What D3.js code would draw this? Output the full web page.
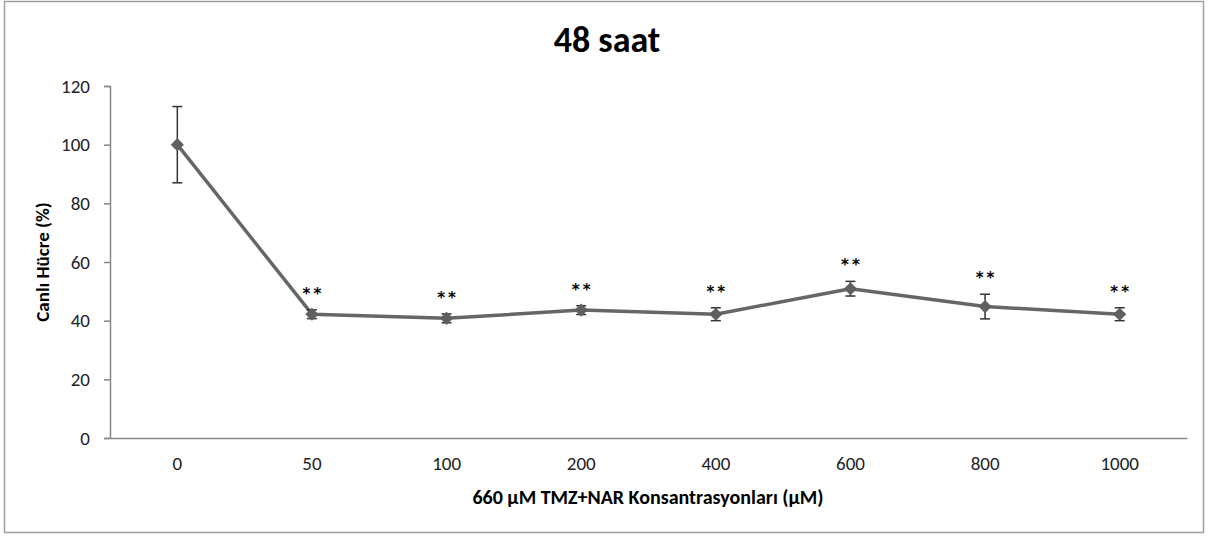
<!DOCTYPE html>
<html>
<head>
<meta charset="utf-8">
<script src="https://cdn.jsdelivr.net/npm/d3@7"></script>
<style>
	body { margin: 0; background: #fff; }
	text { font-family: Carlito, Calibri, 'Open Sans', sans-serif; }
</style>
</head>
<body>
<script>
const categories = [ '0', '50', '100', '200', '400', '600', '800', '1000' ];
const values = [ 100, 42.2, 40.8, 43.6, 42.2, 50.9, 44.8, 42.2 ];
const errors = [ 13, 1.5, 1.5, 1.5, 2.2, 2.5, 4.2, 2.2 ];
const marks = [ '', '**', '**', '**', '**', '**', '**', '**' ];
const yTicks = [ 0, 20, 40, 60, 80, 100, 120 ];

const width = 1209;
const height = 536;

const svg = d3.select('body').append('svg').attr('width', width).attr('height', height);

// outer frame
svg
	.append('rect')
	.attr('x', 4.5)
	.attr('y', 1.5)
	.attr('width', 1199)
	.attr('height', 531)
	.attr('fill', 'white')
	.attr('stroke', '#a0a0a0')
	.attr('stroke-width', 1.5);

const x = d3.scaleBand().domain(categories).range([ 110, 1187 ]);
const y = d3.scaleLinear().domain([ 0, 120 ]).range([ 438, 86 ]);

/*
	axes
*/
const gy = svg
	.append('g')
	.attr('transform', 'translate(110,0)')
	.call(d3.axisLeft(y).tickValues(yTicks).tickSize(6).tickPadding(14));
gy.select('.domain').attr('stroke', '#888').attr('stroke-width', 1.5);
gy.selectAll('.tick line').attr('stroke', '#888').attr('stroke-width', 1.5);
gy.selectAll('.tick text').style('font-size', '19px').attr('fill', '#222');

const gx = svg
	.append('g')
	.attr('transform', 'translate(0,438)')
	.call(d3.axisBottom(x).tickSize(0).tickPadding(19).tickSizeOuter(0));
gx.select('.domain').attr('stroke', '#888').attr('stroke-width', 1.5);
gx.selectAll('.tick text').style('font-size', '19px').attr('fill', '#222');

/*
	titles
*/
svg
	.append('text')
	.attr('x', 607)
	.attr('y', 52)
	.attr('text-anchor', 'middle')
	.style('font-size', '36px')
	.style('font-weight', 'bold')
	.text('48 saat');

svg
	.append('text')
	.attr('transform', 'translate(49,262) rotate(-90)')
	.attr('text-anchor', 'middle')
	.style('font-size', '19px')
	.style('font-weight', 'bold')
	.text('Canlı Hücre (%)');

svg
	.append('text')
	.attr('x', 648)
	.attr('y', 504)
	.attr('text-anchor', 'middle')
	.style('font-size', '20px')
	.style('font-weight', 'bold')
	.text('660 µM TMZ+NAR Konsantrasyonları (µM)');

/*
	series
*/
const cx = (i) => x(categories[i]) + x.bandwidth() / 2;
const data = values.map((v, i) => ({ i, v, e: errors[i], m: marks[i] }));

svg
	.append('path')
	.datum(data)
	.attr('fill', 'none')
	.attr('stroke', '#666')
	.attr('stroke-width', 3.5)
	.attr('stroke-linejoin', 'round')
	.attr('d', d3.line().x((d) => cx(d.i)).y((d) => y(d.v)));

const gErr = svg.append('g').attr('stroke', '#333').attr('stroke-width', 1.5);
data.forEach((d) => {
	const px = cx(d.i);
	gErr.append('line').attr('x1', px).attr('x2', px).attr('y1', y(d.v - d.e)).attr('y2', y(d.v + d.e));
	[ d.v - d.e, d.v + d.e ].forEach((val) => {
		gErr.append('line').attr('x1', px - 5).attr('x2', px + 5).attr('y1', y(val)).attr('y2', y(val));
	});
});

svg
	.append('g')
	.selectAll('path')
	.data(data)
	.join('path')
	.attr('fill', '#5f5f5f')
	.attr('d', d3.symbol(d3.symbolDiamond2, 110))
	.attr('transform', (d) => `translate(${cx(d.i)},${y(d.v)})`);

// significance stars
svg
	.append('g')
	.selectAll('text')
	.data(data.filter((d) => d.m))
	.join('text')
	.attr('x', (d) => cx(d.i) + 1.5)
	.attr('y', (d) => y(d.v + d.e) - 11)
	.attr('text-anchor', 'middle')
	.style('font-family', "'DejaVu Sans', sans-serif")
	.style('font-size', '15px')
	.style('font-weight', 'bold')
	.style('letter-spacing', '3px')
	.text((d) => d.m);
</script>
</body>
</html>
